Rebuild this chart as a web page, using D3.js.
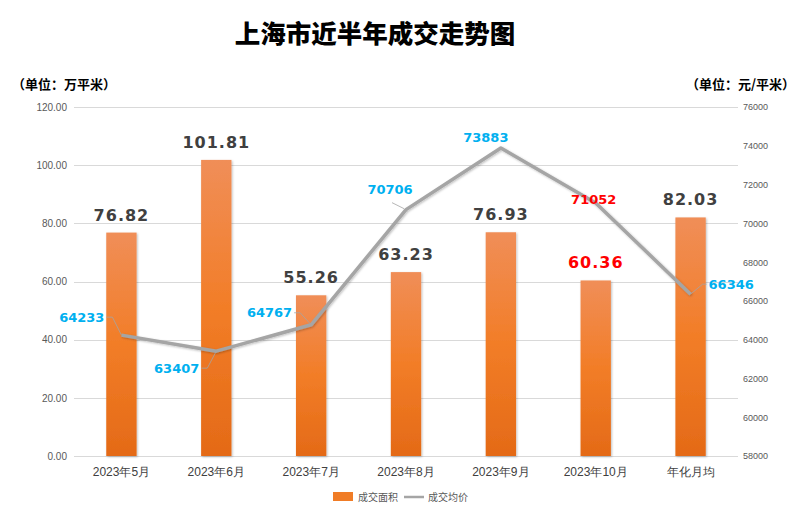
<!DOCTYPE html>
<html><head><meta charset="utf-8">
<script src="https://cdn.jsdelivr.net/npm/d3@7/dist/d3.min.js"></script>
<style>
body{margin:0;background:#fff;}
svg{display:block;font-family:"Noto Sans CJK SC","Noto Sans",sans-serif;}
</style></head>
<body><svg id="c" width="800" height="514"></svg>
<script>
const categories = ["2023年5月","2023年6月","2023年7月","2023年8月","2023年9月","2023年10月","年化月均"];
const areaValues = [76.82, 101.81, 55.26, 63.23, 76.93, 60.36, 82.03];
const priceValues = [64233, 63407, 64767, 70706, 73883, 71052, 66346];
const leftTicks = [0,20,40,60,80,100,120];
const rightTicks = [58000,60000,62000,64000,66000,68000,70000,72000,74000,76000];
// label offsets relative to line point: [dx, dy, anchor]
const priceLabelPos = [[-17,-18,"end"],[-17,17,"end"],[-19,-12,"end"],[-16,-20,"middle"],[-15,-11,"middle"],[-2,-3,"middle"],[18,-10,"start"]];
const highlight = [false,false,false,false,false,true,false];

const svg = d3.select("#c");
const x = d3.scaleBand().domain(categories).range([74,738]).paddingInner(0.68).paddingOuter(0.34);
const yL = d3.scaleLinear().domain([0,120]).range([456,107]);
const yR = d3.scaleLinear().domain([58000,76000]).range([456,107]);

const defs = svg.append("defs");
const g = defs.append("linearGradient").attr("id","bg").attr("x1",0).attr("y1",0).attr("x2",0).attr("y2",1);
g.append("stop").attr("offset","0%").attr("stop-color","#F08E58");
g.append("stop").attr("offset","50%").attr("stop-color","#F27D27");
g.append("stop").attr("offset","100%").attr("stop-color","#E46A17");
const f = defs.append("filter").attr("id","sh").attr("x","-20%").attr("y","-20%").attr("width","140%").attr("height","140%");
f.append("feDropShadow").attr("dx",1).attr("dy",1).attr("stdDeviation",1).attr("flood-color","#000").attr("flood-opacity",0.25);

// title
svg.append("text").attr("x",375).attr("y",43).attr("text-anchor","middle")
  .attr("font-size",25.5).attr("font-weight",900).attr("fill","#000").text("上海市近半年成交走势图");
svg.append("text").attr("x",12).attr("y",89).attr("font-size",13).attr("font-weight",700).attr("fill","#000").text("（单位：万平米）");
svg.append("text").attr("x",795).attr("y",89).attr("text-anchor","end").attr("font-size",13).attr("font-weight",700).attr("fill","#000").text("（单位：元/平米）");

// grid
svg.append("g").selectAll("line").data(leftTicks).join("line")
  .attr("x1",74).attr("x2",738).attr("y1",d=>Math.round(yL(d))+0.5).attr("y2",d=>Math.round(yL(d))+0.5)
  .attr("stroke","#D9D9D9").attr("stroke-width",1);

// axes
const la = svg.append("g").attr("transform","translate(74,0)").call(d3.axisLeft(yL).tickValues(leftTicks).tickFormat(d3.format(".2f")).tickSize(0).tickPadding(7));
la.select(".domain").remove();
la.selectAll("text").attr("font-size",10).attr("fill","#595959").attr("font-family","Liberation Sans, Arial, sans-serif");
const ra = svg.append("g").attr("transform","translate(738,0)").call(d3.axisRight(yR).tickValues(rightTicks).tickFormat(d3.format("d")).tickSize(0).tickPadding(5));
ra.select(".domain").remove();
ra.selectAll("text").attr("font-size",9).attr("fill","#595959").attr("font-family","Liberation Sans, Arial, sans-serif");

// bars
svg.append("g").selectAll("rect").data(areaValues).join("rect")
  .attr("x",(d,i)=>x(categories[i])).attr("width",x.bandwidth())
  .attr("y",d=>yL(d)).attr("height",d=>yL(0)-yL(d))
  .attr("fill","url(#bg)").attr("filter","url(#sh)");

// x axis
const xa = svg.append("g").attr("transform","translate(0,456)").call(d3.axisBottom(x).tickSize(0).tickPadding(11));
xa.select(".domain").remove();
xa.selectAll("text").attr("font-size",12).attr("font-weight",500).attr("fill","#404040");

// bar labels
svg.append("g").selectAll("text").data(areaValues).join("text")
  .attr("x",(d,i)=>x(categories[i])+x.bandwidth()/2).attr("y",d=>yL(d)-12)
  .attr("text-anchor","middle").attr("font-size",16).attr("font-weight",700)
  .attr("font-family","DejaVu Sans, sans-serif").attr("letter-spacing",1)
  .attr("fill",(d,i)=>highlight[i]?"#FF0000":"#404040").text(d=>d.toFixed(2));

// line
const cx = i=>x(categories[i])+x.bandwidth()/2;
const line = d3.line().x((d,i)=>cx(i)).y(d=>yR(d));
svg.append("path").datum(priceValues).attr("d",line).attr("fill","none")
  .attr("stroke","#A5A5A5").attr("stroke-width",3.5).attr("stroke-linejoin","round").attr("filter","url(#sh)");

// price labels with leaders
const pl = svg.append("g");
priceValues.forEach((v,i)=>{
  const px=cx(i), py=yR(v);
  const [dx,dy,anc]=priceLabelPos[i];
  const tx=px+dx, ty=py+dy;
  if(i===0||i===1||i===2){
    pl.append("polyline").attr("points",`${tx+2},${ty} ${tx+8},${ty} ${px},${py}`).attr("fill","none").attr("stroke","#A5A5A5").attr("stroke-width",0.8);
  } else if(i===3){
    pl.append("polyline").attr("points",`${tx+2},${ty+13} ${px-2},${py-1}`).attr("fill","none").attr("stroke","#A5A5A5").attr("stroke-width",0.8);
  } else if(i===6){
    pl.append("polyline").attr("points",`${px},${py} ${tx-6},${ty} ${tx-2},${ty}`).attr("fill","none").attr("stroke","#A5A5A5").attr("stroke-width",0.8);
  }
  pl.append("text").attr("x",tx).attr("y",ty).attr("dy","0.35em").attr("text-anchor",anc)
    .attr("font-size",13).attr("font-weight",700).attr("font-family","DejaVu Sans, sans-serif")
    .attr("fill",highlight[i]?"#FF0000":"#00B0F0").text(v);
});

// legend
const lg = svg.append("g");
lg.append("rect").attr("x",333).attr("y",492).attr("width",20).attr("height",9).attr("fill","#F07C26");
lg.append("text").attr("x",358).attr("y",497).attr("dy","0.35em").attr("font-size",10).attr("fill","#595959").text("成交面积");
lg.append("line").attr("x1",404).attr("x2",424).attr("y1",497).attr("y2",497).attr("stroke","#A5A5A5").attr("stroke-width",2.5);
lg.append("text").attr("x",428).attr("y",497).attr("dy","0.35em").attr("font-size",10).attr("fill","#595959").text("成交均价");
</script></body></html>
